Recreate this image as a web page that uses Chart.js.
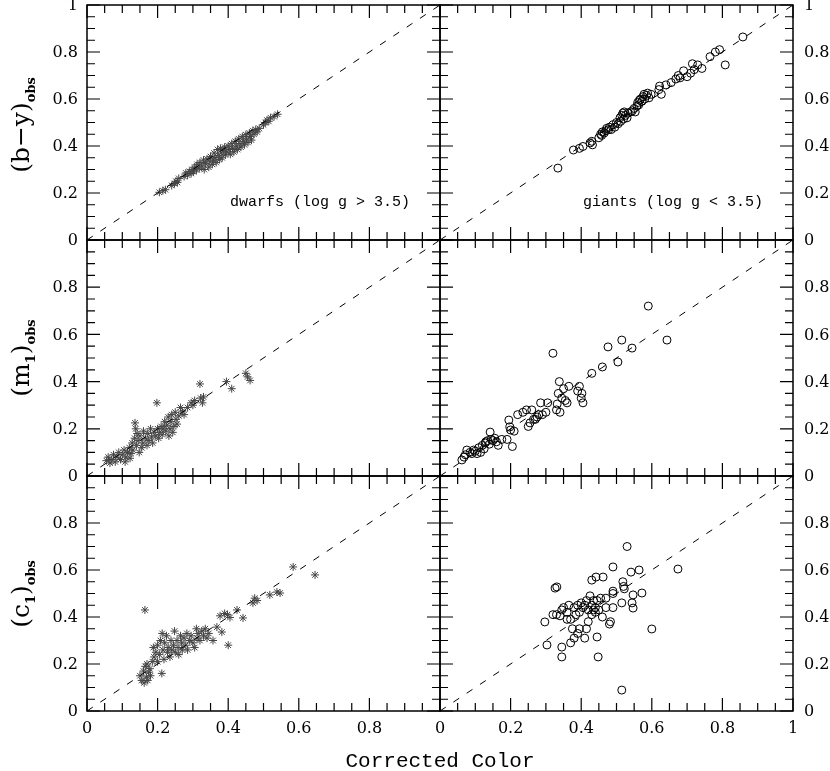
<!DOCTYPE html>
<html>
<head>
<meta charset="utf-8">
<script src="https://cdn.jsdelivr.net/npm/chart.js@4.4.1/dist/chart.umd.min.js"></script>
<style>
  html, body { margin: 0; padding: 0; background: #fff; }
  #wrap { position: relative; width: 830px; height: 771px; overflow: hidden; }
  #wrap canvas { position: absolute; left: 0; top: 0; }
  .ytitle { position: absolute; font-family: "DejaVu Serif", serif; font-size: 25px; color: #000;
            transform: translate(-50%, -50%) rotate(-90deg); white-space: nowrap; }
  .ytitle sub { font-size: 13px; font-weight: bold; }
  #xtitle { position: absolute; left: 440px; top: 761px; transform: translate(-50%, -50%);
            font-family: "Liberation Mono", monospace; font-size: 21px; color: #000; }
</style>
</head>
<body>
<div id="wrap">
  <canvas id="c0" width="830" height="771"></canvas>
  <canvas id="c1" width="830" height="771"></canvas>
  <canvas id="c2" width="830" height="771"></canvas>
  <canvas id="c3" width="830" height="771"></canvas>
  <canvas id="c4" width="830" height="771"></canvas>
  <canvas id="c5" width="830" height="771"></canvas>
  <div class="ytitle" style="left:22px; top:125px;">(b&minus;y)<sub>obs</sub></div>
  <div class="ytitle" style="left:22px; top:358px;">(m<sub>1</sub>)<sub>obs</sub></div>
  <div class="ytitle" style="left:22px; top:594px;">(c<sub>1</sub>)<sub>obs</sub></div>
  <div id="xtitle">Corrected Color</div>
</div>
<script>
// one-to-one reference line
const diagX = [0, 1];

// axis tick labels
const tickLabelsLow = ["0", "0.2", "0.4", "0.6", "0.8"];
const tickLabelsFull = ["0", "0.2", "0.4", "0.6", "0.8", "1"];
const tickValues = [0, 0.2, 0.4, 0.6, 0.8, 1];

// dwarfs (log g > 3.5): [corrected, observed]
const dwarfsBY = [[0.205,0.203],[0.215,0.21],[0.222,0.214],[0.24,0.232],[0.248,0.24],[0.252,0.25],[0.26,0.262],[0.256,0.245],
  [0.275,0.27],[0.28,0.285],[0.285,0.276],[0.29,0.292],[0.295,0.283],[0.298,0.3],[0.302,0.29],[0.305,0.31],[0.31,0.298],
  [0.312,0.322],[0.318,0.305],[0.32,0.33],[0.325,0.315],[0.33,0.34],[0.332,0.3],[0.336,0.325],[0.34,0.345],[0.345,0.31],
  [0.348,0.333],[0.35,0.355],[0.355,0.322],[0.358,0.34],[0.36,0.37],[0.363,0.35],[0.366,0.33],[0.37,0.385],[0.372,0.36],
  [0.375,0.342],[0.378,0.39],[0.38,0.37],[0.383,0.35],[0.386,0.38],[0.39,0.395],[0.392,0.362],[0.396,0.375],[0.4,0.4],
  [0.403,0.385],[0.406,0.365],[0.41,0.41],[0.412,0.39],[0.416,0.375],[0.42,0.42],[0.423,0.4],[0.426,0.385],[0.43,0.43],
  [0.433,0.41],[0.436,0.395],[0.44,0.44],[0.443,0.42],[0.446,0.405],[0.45,0.448],[0.452,0.43],[0.456,0.415],[0.46,0.455],
  [0.463,0.44],[0.466,0.425],[0.47,0.465],[0.473,0.45],[0.478,0.47],[0.482,0.46],[0.488,0.475],[0.5,0.49],[0.505,0.5],
  [0.51,0.51],[0.515,0.505],[0.52,0.52],[0.53,0.525],[0.54,0.535]];
const dwarfsM1 = [[0.055,0.065],[0.06,0.08],[0.065,0.055],[0.07,0.07],[0.075,0.09],[0.08,0.06],[0.085,0.08],[0.09,0.1],
  [0.095,0.07],[0.1,0.09],[0.105,0.11],[0.108,0.06],[0.11,0.08],[0.115,0.1],[0.12,0.12],[0.122,0.075],[0.125,0.095],
  [0.128,0.14],[0.13,0.11],[0.135,0.16],[0.136,0.225],[0.138,0.2],[0.14,0.13],[0.142,0.18],[0.145,0.15],[0.148,0.1],
  [0.15,0.17],[0.155,0.12],[0.158,0.14],[0.16,0.19],[0.165,0.16],[0.17,0.13],[0.172,0.18],[0.175,0.15],[0.18,0.2],
  [0.183,0.165],[0.186,0.14],[0.19,0.185],[0.195,0.17],[0.198,0.31],[0.2,0.2],[0.203,0.16],[0.206,0.185],[0.21,0.21],
  [0.213,0.175],[0.216,0.2],[0.22,0.23],[0.223,0.19],[0.226,0.215],[0.23,0.25],[0.232,0.17],[0.235,0.2],[0.238,0.23],
  [0.24,0.26],[0.243,0.185],[0.246,0.21],[0.25,0.27],[0.252,0.24],[0.255,0.22],[0.26,0.255],[0.265,0.29],[0.27,0.275],
  [0.275,0.26],[0.285,0.29],[0.295,0.31],[0.3,0.3],[0.305,0.32],[0.32,0.39],[0.322,0.33],[0.327,0.31],[0.33,0.335],
  [0.395,0.4],[0.41,0.37],[0.45,0.435],[0.455,0.42],[0.462,0.405]];
const dwarfsC1 = [[0.164,0.43],[0.15,0.15],[0.155,0.13],[0.16,0.17],[0.162,0.12],[0.165,0.19],[0.168,0.145],[0.17,0.2],
  [0.172,0.13],[0.175,0.165],[0.178,0.18],[0.18,0.15],[0.185,0.21],[0.188,0.27],[0.19,0.23],[0.195,0.25],[0.2,0.21],
  [0.2,0.28],[0.205,0.24],[0.208,0.3],[0.212,0.16],[0.213,0.33],[0.215,0.26],[0.218,0.22],[0.22,0.29],[0.225,0.32],
  [0.228,0.25],[0.23,0.27],[0.235,0.23],[0.238,0.3],[0.24,0.26],[0.245,0.28],[0.248,0.34],[0.25,0.25],[0.255,0.3],
  [0.258,0.27],[0.26,0.24],[0.265,0.32],[0.268,0.29],[0.27,0.26],[0.275,0.31],[0.28,0.28],[0.283,0.33],[0.285,0.26],
  [0.29,0.3],[0.295,0.32],[0.3,0.29],[0.305,0.27],[0.31,0.35],[0.312,0.31],[0.315,0.33],[0.32,0.3],[0.325,0.34],
  [0.33,0.32],[0.335,0.35],[0.34,0.31],[0.345,0.33],[0.357,0.3],[0.368,0.357],[0.382,0.336],[0.377,0.405],[0.39,0.415],
  [0.398,0.41],[0.405,0.398],[0.4,0.28],[0.425,0.43],[0.442,0.396],[0.47,0.46],[0.475,0.48],[0.482,0.47],[0.518,0.494],
  [0.538,0.506],[0.547,0.502],[0.584,0.613],[0.646,0.579]];

// giants (log g < 3.5): [corrected, observed]
const giantsBY = [[0.334,0.306],[0.378,0.383],[0.395,0.39],[0.405,0.398],[0.425,0.413],[0.43,0.42],[0.432,0.405],
  [0.45,0.435],[0.455,0.45],[0.458,0.445],[0.46,0.46],[0.465,0.455],[0.47,0.465],[0.472,0.475],[0.478,0.47],[0.48,0.48],
  [0.485,0.47],[0.49,0.49],[0.495,0.48],[0.5,0.5],[0.505,0.495],[0.51,0.52],[0.512,0.505],[0.515,0.53],[0.518,0.54],
  [0.52,0.515],[0.522,0.545],[0.525,0.53],[0.53,0.52],[0.533,0.54],[0.54,0.545],[0.545,0.55],[0.55,0.56],[0.553,0.545],
  [0.558,0.57],[0.56,0.585],[0.563,0.575],[0.565,0.595],[0.568,0.6],[0.572,0.59],[0.575,0.61],[0.578,0.62],[0.58,0.6],
  [0.585,0.615],[0.588,0.625],[0.592,0.605],[0.598,0.62],[0.62,0.64],[0.622,0.655],[0.627,0.62],[0.64,0.66],[0.655,0.67],
  [0.668,0.685],[0.675,0.7],[0.68,0.69],[0.69,0.72],[0.7,0.695],[0.71,0.71],[0.715,0.75],[0.72,0.725],[0.73,0.745],
  [0.742,0.73],[0.765,0.78],[0.78,0.8],[0.792,0.81],[0.808,0.745],[0.858,0.864]];
const giantsM1 = [[0.062,0.068],[0.068,0.08],[0.072,0.09],[0.076,0.11],[0.085,0.1],[0.09,0.095],[0.095,0.11],[0.1,0.105],
  [0.105,0.095],[0.11,0.12],[0.115,0.1],[0.12,0.13],[0.125,0.115],[0.128,0.14],[0.13,0.145],[0.135,0.15],[0.14,0.135],
  [0.142,0.186],[0.145,0.155],[0.15,0.15],[0.155,0.16],[0.16,0.145],[0.165,0.13],[0.175,0.155],[0.19,0.155],[0.195,0.237],
  [0.198,0.208],[0.2,0.195],[0.205,0.125],[0.21,0.19],[0.22,0.26],[0.235,0.27],[0.245,0.28],[0.25,0.21],[0.255,0.225],
  [0.26,0.28],[0.265,0.24],[0.27,0.24],[0.275,0.25],[0.28,0.26],[0.285,0.31],[0.29,0.26],[0.3,0.27],[0.305,0.31],
  [0.32,0.52],[0.33,0.28],[0.332,0.305],[0.335,0.35],[0.338,0.4],[0.34,0.27],[0.345,0.33],[0.35,0.37],[0.355,0.32],
  [0.36,0.31],[0.365,0.38],[0.39,0.36],[0.395,0.38],[0.4,0.33],[0.402,0.35],[0.405,0.31],[0.43,0.435],[0.46,0.462],
  [0.476,0.547],[0.504,0.483],[0.515,0.576],[0.544,0.542],[0.59,0.72],[0.643,0.576]];
const giantsC1 = [[0.53,0.7],[0.515,0.089],[0.674,0.604],[0.6,0.349],[0.49,0.613],[0.43,0.557],[0.442,0.57],[0.462,0.57],
  [0.518,0.55],[0.541,0.591],[0.564,0.6],[0.572,0.502],[0.547,0.494],[0.544,0.46],[0.547,0.438],[0.515,0.46],[0.52,0.53],
  [0.522,0.52],[0.49,0.51],[0.49,0.5],[0.49,0.44],[0.483,0.38],[0.48,0.37],[0.47,0.48],[0.47,0.44],[0.326,0.523],
  [0.331,0.528],[0.297,0.379],[0.303,0.281],[0.32,0.41],[0.33,0.41],[0.34,0.405],[0.345,0.43],[0.35,0.44],[0.36,0.42],
  [0.365,0.45],[0.37,0.39],[0.375,0.35],[0.345,0.272],[0.345,0.23],[0.37,0.29],[0.38,0.31],[0.39,0.33],[0.395,0.35],
  [0.41,0.31],[0.415,0.35],[0.42,0.38],[0.445,0.315],[0.448,0.23],[0.39,0.45],[0.395,0.42],[0.4,0.46],[0.405,0.44],
  [0.41,0.45],[0.415,0.47],[0.42,0.43],[0.425,0.49],[0.43,0.45],[0.43,0.41],[0.435,0.43],[0.435,0.47],[0.44,0.42],
  [0.44,0.44],[0.445,0.47],[0.45,0.43],[0.455,0.48],[0.46,0.4],[0.38,0.44],[0.385,0.41],[0.36,0.39]];

// panel frames in page pixels: [left, right] and [top, bottom]
const colEdges = [[87, 440], [440, 793]];
const rowEdges = [[5, 240], [240, 476], [476, 711]];

const serif = '"DejaVu Serif", serif';

const framePlugin = {
  id: "frame",
  afterDraw(chart, args, o) {
    const { ctx, chartArea: a, scales: { x, y } } = chart;
    ctx.save();
    ctx.strokeStyle = "#000";
    ctx.lineWidth = 1.5;
    ctx.strokeRect(a.left, a.top, a.right - a.left, a.bottom - a.top);
    ctx.lineWidth = 1.2;
    ctx.beginPath();
    for (let i = 0; i <= 20; i++) {
      const v = i * 0.05;
      const len = (i % 4 === 0) ? 13 : 8;
      const px = x.getPixelForValue(v), py = y.getPixelForValue(v);
      ctx.moveTo(px, a.bottom); ctx.lineTo(px, a.bottom - len);
      ctx.moveTo(px, a.top); ctx.lineTo(px, a.top + len);
      ctx.moveTo(a.left, py); ctx.lineTo(a.left + len, py);
      ctx.moveTo(a.right, py); ctx.lineTo(a.right - len, py);
    }
    ctx.stroke();
    ctx.fillStyle = "#000";
    ctx.font = "16px " + serif;
    ctx.textBaseline = "middle";
    if (o.yLabels) {
      ctx.textAlign = o.side === "left" ? "right" : "left";
      const xx = o.side === "left" ? a.left - 9 : a.right + 11;
      o.yLabels.forEach((t, i) => ctx.fillText(t, xx, y.getPixelForValue(tickValues[i]) + 1));
    }
    if (o.xLabels) {
      ctx.textAlign = "center";
      o.xLabels.forEach((t, i) => ctx.fillText(t, x.getPixelForValue(tickValues[i]), a.bottom + 18));
    }
    if (o.note) {
      ctx.font = '15px "Liberation Mono", monospace';
      ctx.textAlign = "right";
      ctx.fillText(o.note, a.right - 30, y.getPixelForValue(0.16));
    }
    ctx.restore();
  }
};

function makePanel(id, col, row, pts, giant, frameOpts) {
  const [l, r] = colEdges[col];
  const [t, b] = rowEdges[row];
  const diag = diagX.map(v => ({ x: v, y: v }));
  const marks = pts.map(p => ({ x: p[0], y: p[1] }));
  const markStyle = giant
    ? { pointStyle: "circle", pointRadius: 4, borderColor: "#000", backgroundColor: "rgba(0,0,0,0)", borderWidth: 1 }
    : { pointStyle: "star", pointRadius: 4, borderColor: "#444", backgroundColor: "#444", borderWidth: 1 };
  return new Chart(document.getElementById(id), {
    type: "scatter",
    data: {
      datasets: [
        { type: "line", data: diag, borderColor: "#000", borderWidth: 1, borderDash: [7, 9],
          pointRadius: 0, fill: false },
        Object.assign({ data: marks }, markStyle)
      ]
    },
    options: {
      responsive: false,
      animation: false,
      events: [],
      layout: { padding: { left: l, top: t, right: 830 - r, bottom: 771 - b } },
      scales: {
        x: { type: "linear", min: 0, max: 1, display: false },
        y: { type: "linear", min: 0, max: 1, display: false }
      },
      plugins: { legend: { display: false }, tooltip: { enabled: false }, frame: frameOpts }
    },
    plugins: [framePlugin]
  });
}

document.addEventListener("DOMContentLoaded", () => {
  makePanel("c0", 0, 0, dwarfsBY, false, { side: "left", yLabels: tickLabelsFull, note: "dwarfs (log g > 3.5)" });
  makePanel("c1", 1, 0, giantsBY, true, { side: "right", yLabels: tickLabelsFull, note: "giants (log g < 3.5)" });
  makePanel("c2", 0, 1, dwarfsM1, false, { side: "left", yLabels: tickLabelsLow });
  makePanel("c3", 1, 1, giantsM1, true, { side: "right", yLabels: tickLabelsLow });
  makePanel("c4", 0, 2, dwarfsC1, false, { side: "left", yLabels: tickLabelsLow, xLabels: tickLabelsLow });
  makePanel("c5", 1, 2, giantsC1, true, { side: "right", yLabels: tickLabelsLow, xLabels: tickLabelsFull });
});
</script>
</body>
</html>
